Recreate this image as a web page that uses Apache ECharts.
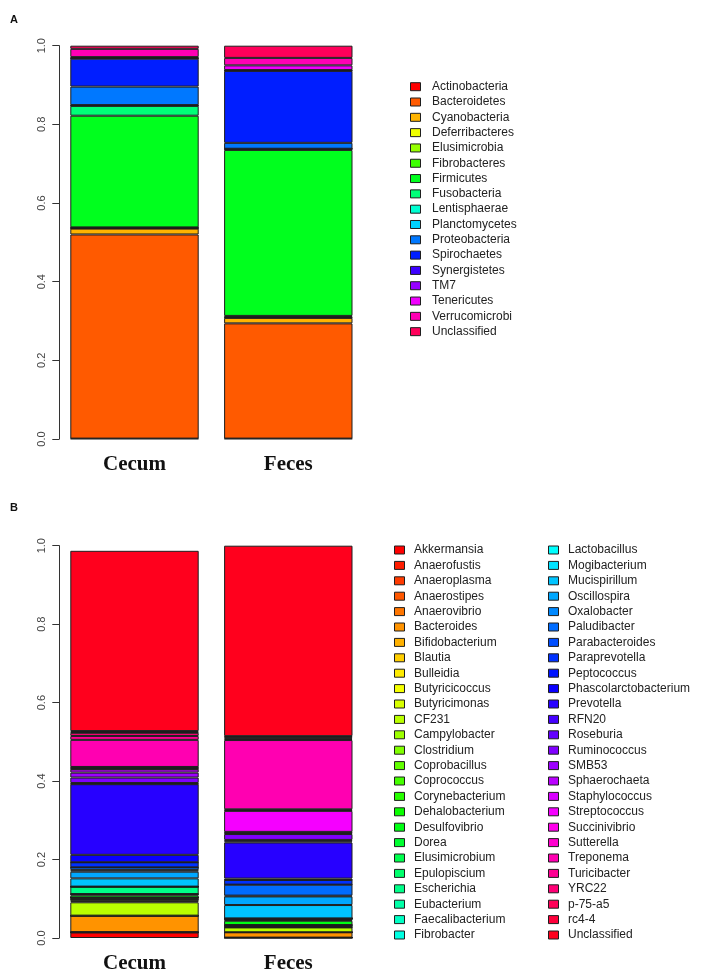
<!DOCTYPE html>
<html>
<head>
<meta charset="utf-8">
<script src="https://cdn.jsdelivr.net/npm/echarts@6/dist/echarts.min.js"></script>
<style>
html,body{margin:0;padding:0;background:#fff;}
#chart{width:708px;height:974px;}
</style>
</head>
<body>
<div id="chart"></div>
<script>
// ---------- DATA ----------
const samples = ['Cecum', 'Feces'];

const phyla = ['Actinobacteria','Bacteroidetes','Cyanobacteria','Deferribacteres','Elusimicrobia',
  'Fibrobacteres','Firmicutes','Fusobacteria','Lentisphaerae','Planctomycetes','Proteobacteria',
  'Spirochaetes','Synergistetes','TM7','Tenericutes','Verrucomicrobia','Unclassified'];
const cecumPhylum = [0.001,0.519,0.015,0.001,0.001,0.001,0.284,0.025,0.001,0.001,0.047,0.071,0.001,0.001,0.002,0.021,0.008];
const fecesPhylum = [0.001,0.293,0.014,0.001,0.002,0.002,0.422,0.002,0.001,0,0.015,0.183,0.001,0.001,0.012,0.019,0.031];

const genera = ['Akkermansia','Anaerofustis','Anaeroplasma','Anaerostipes','Anaerovibrio','Bacteroides',
  'Bifidobacterium','Blautia','Bulleidia','Butyricicoccus','Butyricimonas','CF231','Campylobacter',
  'Clostridium','Coprobacillus','Coprococcus','Corynebacterium','Dehalobacterium','Desulfovibrio','Dorea',
  'Elusimicrobium','Epulopiscium','Escherichia','Eubacterium','Faecalibacterium','Fibrobacter',
  'Lactobacillus','Mogibacterium','Mucispirillum','Oscillospira','Oxalobacter','Paludibacter',
  'Parabacteroides','Paraprevotella','Peptococcus','Phascolarctobacterium','Prevotella','RFN20',
  'Roseburia','Ruminococcus','SMB53','Sphaerochaeta','Staphylococcus','Streptococcus','Succinivibrio',
  'Sutterella','Treponema','Turicibacter','YRC22','p-75-a5','rc4-4','Unclassified'];
const cecumGenus = [0.014,0.0005,0.0005,0,0,0.042,0,0,0,0,0,0.034,0.003,0.005,0,0.004,0,0,0.006,0.003,
  0,0,0.019,0,0,0,0,0,0.021,0.017,0.004,0.007,0,0.013,0,0.019,0.180,0.001,0.002,0.014,0.0126,0.0084,
  0.001,0.002,0.002,0.001,0.069,0.010,0.008,0.002,0.0025,0.4595];
const fecesGenus = [0.001,0,0,0,0,0.0135,0,0,0,0,0,0.0125,0,0.003,0,0.003,0,0,0.011,0.002,
  0.002,0,0.002,0,0,0,0,0,0.034,0.022,0.002,0.028,0,0.012,0,0.0034,0.0921,0.003,0.0035,0.015,0.002,0.002,
  0.0015,0.0535,0.002,0.002,0.1766,0.003,0.003,0.002,0.002,0.4854];

// ---------- COLOURS (R rainbow(n)) ----------
function rainbow(n) {
  const out = [];
  for (let i = 0; i < n; i++) {
    const h = (i / n) * 6;
    const k = Math.floor(h) % 6, f = h - Math.floor(h);
    const q = 1 - f, t = f;
    let r, g, b;
    switch (k) {
      case 0: r = 1; g = t; b = 0; break;
      case 1: r = q; g = 1; b = 0; break;
      case 2: r = 0; g = 1; b = t; break;
      case 3: r = 0; g = q; b = 1; break;
      case 4: r = t; g = 0; b = 1; break;
      default: r = 1; g = 0; b = q;
    }
    const hx = v => ('0' + Math.round(v * 255).toString(16)).slice(-2);
    out.push('#' + hx(r) + hx(g) + hx(b));
  }
  return out;
}
const colA = rainbow(phyla.length);
const colB = rainbow(genera.length);

const BORDER = '#1e1e1e';
const barW = 128.4;

function makeSeries(names, c1, c2, cols, idx, stack) {
  return names.map((nm, i) => ({
    type: 'bar', name: nm, stack: stack,
    xAxisIndex: idx, yAxisIndex: idx,
    barWidth: barW,
    data: [c1[i], c2[i]],
    itemStyle: { color: cols[i], borderColor: BORDER, borderWidth: 1 },
    emphasis: { disabled: true },
    silent: true
  }));
}

const gridLeft = 57.6, gridW = 307.6, plotH = 393.3;
function xAx(idx) {
  return {
    type: 'category', gridIndex: idx, data: samples,
    axisLine: { show: false }, axisTick: { show: false },
    axisLabel: { color: '#111', fontFamily: 'Liberation Serif', fontWeight: 'bold', fontSize: 21, margin: 15 }
  };
}
function yAx(idx) {
  return {
    type: 'value', gridIndex: idx, min: 0, max: 1, interval: 0.2, offset: -1.7,
    axisLine: { show: true, lineStyle: { color: '#333', width: 1 } },
    axisTick: { show: true, length: 7, lineStyle: { color: '#333', width: 1 } },
    splitLine: { show: false },
    axisLabel: { rotate: 90, margin: 12, color: '#444', fontFamily: 'Liberation Sans', fontSize: 11,
      formatter: v => v.toFixed(1) }
  };
}

function legendItems(names, cols) {
  return names.map((nm, i) => ({ name: nm, itemStyle: { color: cols[i], borderColor: BORDER, borderWidth: 1 } }));
}
function legendBase(left, top, data, gap, pad, clip) {
  const ts = { fontFamily: 'Liberation Sans', fontSize: 12, lineHeight: 12, color: '#222',
      padding: [0, 0, 0, pad] };
  if (clip) { ts.width = clip; ts.overflow = 'truncate'; ts.ellipsis = ''; }
  return {
    orient: 'vertical', left: left, top: top, icon: 'rect',
    itemWidth: 10, itemHeight: 8, itemGap: gap, padding: 0,
    selectedMode: false,
    textStyle: ts,
    data: data
  };
}

const option = {
  animation: false,
  backgroundColor: '#fff',
  grid: [
    { left: gridLeft, top: 45.7, width: gridW, height: plotH },
    { left: gridLeft, top: 545.7, width: gridW, height: plotH }
  ],
  xAxis: [xAx(0), xAx(1)],
  yAxis: [yAx(0), yAx(1)],
  legend: [
    legendBase(410, 80.7, legendItems(phyla, colA), 3.31, 6.5, 86),
    legendBase(394, 544, legendItems(genera.slice(0, 26), colB.slice(0, 26)), 3.4, 4.5),
    legendBase(548, 544, legendItems(genera.slice(26), colB.slice(26)), 3.4, 4.5)
  ],
  graphic: [
    { type: 'text', left: 10, top: 14, style: { text: 'A', font: 'bold 11px "Liberation Sans"', fill: '#111' } },
    { type: 'text', left: 10, top: 502, style: { text: 'B', font: 'bold 11px "Liberation Sans"', fill: '#111' } }
  ],
  series: [].concat(
    makeSeries(phyla, cecumPhylum, fecesPhylum, colA, 0, 'phylum'),
    makeSeries(genera, cecumGenus, fecesGenus, colB, 1, 'genus')
  )
};

const chart = echarts.init(document.getElementById('chart'), null, { renderer: 'canvas' });
chart.setOption(option);
</script>
</body>
</html>
